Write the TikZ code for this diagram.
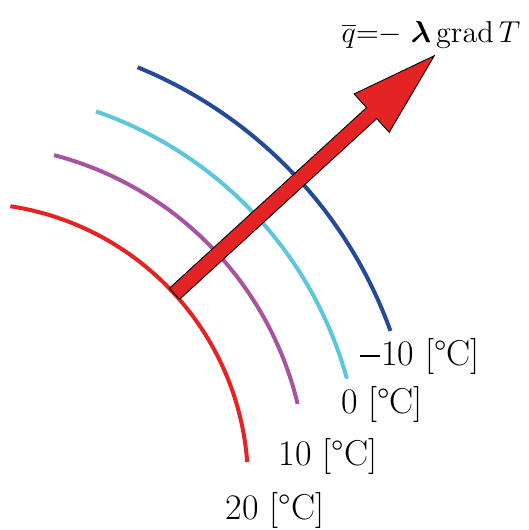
\documentclass[tikz,border=0pt]{standalone}
\usepackage{amsmath,bm}
\usetikzlibrary{calc}

\definecolor{isored}{RGB}{228,36,36}
\definecolor{isomag}{RGB}{168,82,162}
\definecolor{isocyan}{RGB}{92,198,220}
\definecolor{isoblue}{RGB}{36,74,152}

\begin{document}
\begin{tikzpicture}[
  x=1pt, y=1pt,
  every node/.style={font=\fontsize{36}{42}\selectfont, inner sep=0pt},
  isotherm/.style={line width=4pt},
  templabel/.style={anchor=center},
  flux/.style={fill=isored, draw=black, line width=0.9pt, line join=miter},
]
\useasboundingbox (0,0) rectangle (529,530);
% centre of the isotherms
\coordinate (ctr) at (-32,47);
\draw[isotherm, isored]   ([shift={(4.3:280)}]ctr)  arc[start angle=4.3,  end angle=81.3, radius=280];
\draw[isotherm, isomag]   ([shift={(13.5:339)}]ctr) arc[start angle=13.5, end angle=75.3, radius=339];
\draw[isotherm, isocyan]  ([shift={(15.4:393)}]ctr) arc[start angle=15.4, end angle=71.0, radius=393];
\draw[isotherm, isoblue]  ([shift={(19.8:449)}]ctr) arc[start angle=19.8, end angle=67.8, radius=449];
% heat flux arrow
\coordinate (tail) at ($(ctr)+(42.5:280)$);
\coordinate (tip)  at ($(ctr)+(42.5:632.5)$);
\coordinate (neck) at ($(tail)!267.5pt!(tip)$);
\filldraw[flux]
  ($(tail)!7.5pt!-90:(tip)$) -- ($(neck)!7.5pt!90:(tail)$)
  -- ($(neck)!26pt!90:(tail)$) -- (tip)
  -- ($(neck)!26pt!-90:(tail)$) -- ($(neck)!7.5pt!-90:(tail)$)
  -- ($(tail)!7.5pt!90:(tip)$) -- cycle;
\node[anchor=base] (law) at (431,487)
  {\scalebox{2.1}{\Large$\overline{q}{=}{-}\;\bm{\lambda}\,\mathrm{grad}\,T$}};
\node[templabel] (t20) at (275,19)  {20 [\textdegree C]};
\node[templabel] (t10) at (328,73)  {10 [\textdegree C]};
\node[templabel] (t0)  at (382,125) {0 [\textdegree C]};
\node[templabel] (tm10) at (420,173)
  {\rule[0.25em]{0.55em}{0.045em}\hspace{0.04em}10 [\textdegree C]};
\end{tikzpicture}
\end{document}
